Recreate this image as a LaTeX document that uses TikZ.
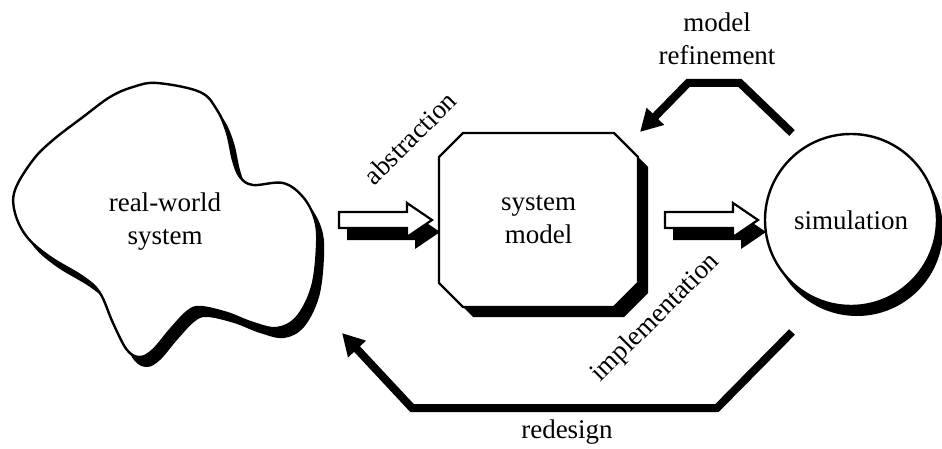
\documentclass[tikz,border=0pt]{standalone}
\usepackage{fontspec}
\setmainfont{Liberation Serif}
\usetikzlibrary{arrows.meta,calc}
\begin{document}
\begin{tikzpicture}[x=1pt,y=-1pt,
 lbl/.style={font=\fontsize{27}{33}\selectfont, align=center, inner sep=0pt},
 outl/.style={draw=black, line width=2.4pt, fill=white},
 shad/.style={fill=black, draw=none},
 flow/.style={line width=8pt, line join=miter, line cap=butt, -{Triangle[length=22pt,width=23pt]}},
 blockarrow/.pic={
   \path[shad] (8,4) -- (76,4) -- (76,-5) -- (101,12) -- (76,29) -- (76,20) -- (8,20) -- cycle;
   \path[outl, line width=2.2pt, line join=miter] (0,-8) -- (68,-8) -- (68,-17) -- (93,0) -- (68,17) -- (68,8) -- (0,8) -- cycle;
 }
]
\useasboundingbox (0,0) rectangle (942,449);

% real-world system blob
\path[shad, shift={(7,10)}] plot[smooth cycle, tension=0.6] coordinates {
 (15,190) (33,160) (53,140) (83,117) (110,97) (133,87) (157,83) (200,92) (217,110)
 (227,133) (233,160) (240,177) (253,185) (283,183) (303,197) (315,220) (317,247)
 (312,287) (297,317) (277,328) (253,323) (227,313) (200,307) (187,312) (170,330)
 (153,350) (140,357) (127,350) (113,323) (100,293) (83,277) (50,257) (27,237) (15,213)};
\path[outl] plot[smooth cycle, tension=0.6] coordinates {
 (15,190) (33,160) (53,140) (83,117) (110,97) (133,87) (157,83) (200,92) (217,110)
 (227,133) (233,160) (240,177) (253,185) (283,183) (303,197) (315,220) (317,247)
 (312,287) (297,317) (277,328) (253,323) (227,313) (200,307) (187,312) (170,330)
 (153,350) (140,357) (127,350) (113,323) (100,293) (83,277) (50,257) (27,237) (15,213)};
\node[lbl] (real) at (165,222) {real-world\\system};

% system model octagon
\foreach \dx/\dy/\st in {10/10/shad, 0/0/outl}
  \path[\st, line join=miter] (463+\dx,133+\dy) -- (614+\dx,133+\dy) -- (638+\dx,157+\dy) -- (638+\dx,283+\dy)
    -- (614+\dx,307+\dy) -- (463+\dx,307+\dy) -- (439+\dx,283+\dy) -- (439+\dx,157+\dy) -- cycle;
\node[lbl, minimum width=199pt, minimum height=174pt] (model) at (538.5,220) {system\\model};

% simulation circle
\fill (857,230) circle (86);
\node[circle, outl, lbl, minimum size=172pt] (sim) at (851,220) {simulation};

% block arrows
\pic at (339,220) {blockarrow};
\pic at (665,220) {blockarrow};

% labels
\node[lbl, rotate=45] (abs) at (410,138) {abstraction};
\node[lbl, rotate=45] (impl) at (656,318) {implementation};
\node[lbl] (mref) at (717,39) {model\\refinement};
\node[lbl] (redes) at (567,432) {redesign};

% feedback connectors
\coordinate (mrS) at (792,133);
\coordinate (mrA) at (740,83);
\coordinate (mrB) at (688,83);
\coordinate (mrE) at (640,132);
\draw[flow] (mrS) -- (mrA) -- (mrB) -- (mrE);

\coordinate (rdS) at (792,332);
\coordinate (rdA) at (717,408);
\coordinate (rdB) at (412,408);
\coordinate (rdE) at (342,333);
\draw[flow] (rdS) -- (rdA) -- (rdB) -- (rdE);
\end{tikzpicture}
\end{document}
